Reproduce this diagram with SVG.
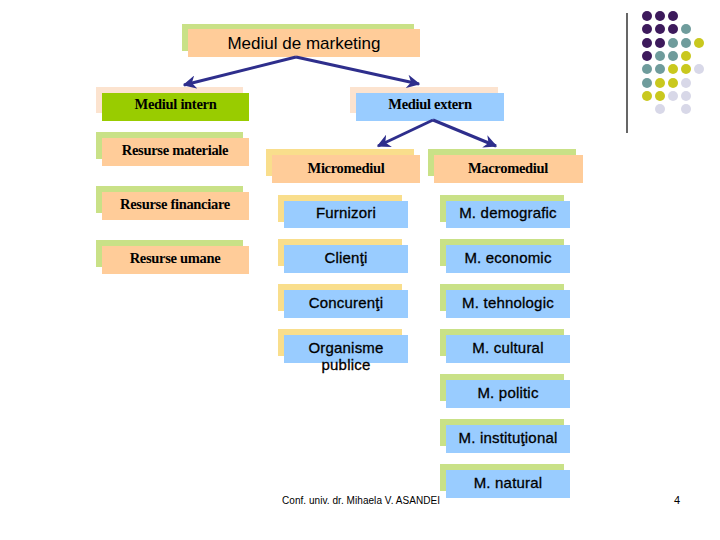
<svg xmlns="http://www.w3.org/2000/svg" width="720" height="540" viewBox="0 0 720 540">
<defs>
<marker id="ah" viewBox="0 0 10 10" refX="9" refY="5" markerWidth="4.5" markerHeight="4.5" orient="auto" markerUnits="strokeWidth">
<path d="M0,0 L10,5 L0,10 L3,5 Z" fill="#2E2E8C"/>
</marker>
</defs>
<style>
.bg-green{fill:#C9E187}
.bg-peach{fill:#FCE3CF}
.bg-yellow{fill:#F9DE8C}
.fr-orange{fill:#FFCC99}
.fr-blue{fill:#99CCFF}
.fr-lime{fill:#99CC00}
.serif{font-family:"Liberation Serif","Times New Roman",serif;font-size:14.5px;font-weight:bold;fill:#000;text-anchor:middle;letter-spacing:-0.3px}
.sans{font-family:"Liberation Sans",Arial,sans-serif;font-size:15px;fill:#000;text-anchor:middle;letter-spacing:0.2px;stroke:#000;stroke-width:0.3px}
.conn{stroke:#2E2E8C;stroke-width:3;fill:none;marker-end:url(#ah)}
</style>
<rect width="720" height="540" fill="#fff"/>

<g id="root">
<rect class="bg-green" x="182" y="24" width="232" height="27"/>
<rect class="fr-orange" x="188" y="29" width="232" height="28"/>
<text x="304" y="49" style="font-family:'Liberation Sans',Arial,sans-serif;font-size:17px;fill:#000;text-anchor:middle">Mediul de marketing</text>
</g>

<g id="mediul-intern">
<rect class="bg-peach" x="96" y="87" width="147" height="26"/>
<rect class="fr-lime" x="102" y="93" width="147" height="28"/>
<text class="serif" x="175.5" y="109">Mediul intern</text>
</g>

<g id="mediul-extern">
<rect class="bg-peach" x="350" y="87" width="148" height="26"/>
<rect class="fr-blue" x="356" y="93" width="148" height="28"/>
<text class="serif" x="430" y="109">Mediul extern</text>
</g>

<g id="resurse-materiale">
<rect class="bg-green" x="96" y="132" width="147" height="27"/>
<rect class="fr-orange" x="102" y="138" width="147" height="28"/>
<text class="serif" x="175" y="155">Resurse materiale</text>
</g>
<g id="resurse-financiare">
<rect class="bg-green" x="96" y="186" width="147" height="27"/>
<rect class="fr-orange" x="102" y="192" width="147" height="28"/>
<text class="serif" x="175" y="209">Resurse financiare</text>
</g>
<g id="resurse-umane">
<rect class="bg-green" x="96" y="240" width="147" height="27"/>
<rect class="fr-orange" x="102" y="246" width="147" height="28"/>
<text class="serif" x="175" y="263">Resurse umane</text>
</g>

<g id="micromediul">
<rect class="bg-yellow" x="266" y="149" width="148" height="27"/>
<rect class="fr-orange" x="272" y="155" width="148" height="28"/>
<text class="serif" x="346" y="173">Micromediul</text>
</g>
<g id="macromediul">
<rect class="bg-green" x="428" y="149" width="148" height="27"/>
<rect class="fr-orange" x="434" y="155" width="149" height="28"/>
<text class="serif" x="508" y="173">Macromediul</text>
</g>

<g id="furnizori">
<rect class="bg-yellow" x="278" y="195" width="124" height="27"/>
<rect class="fr-blue" x="284" y="201" width="124" height="27"/>
<text class="sans" x="346" y="218">Furnizori</text>
</g>
<g id="clienti">
<rect class="bg-yellow" x="278" y="239" width="124" height="27"/>
<rect class="fr-blue" x="284" y="245" width="124" height="28"/>
<text class="sans" x="346" y="263">Clienţi</text>
</g>
<g id="concurenti">
<rect class="bg-yellow" x="278" y="284" width="124" height="27"/>
<rect class="fr-blue" x="284" y="290" width="124" height="28"/>
<text class="sans" x="346" y="308">Concurenţi</text>
</g>
<g id="organisme-publice">
<rect class="bg-yellow" x="278" y="329" width="124" height="27"/>
<rect class="fr-blue" x="284" y="335" width="124" height="28"/>
<text class="sans" x="346" y="353">Organisme</text>
<text class="sans" x="346" y="370">publice</text>
</g>

<g id="m-demografic">
<rect class="bg-green" x="440" y="195" width="124" height="27"/>
<rect class="fr-blue" x="446" y="201" width="124" height="27"/>
<text class="sans" x="508" y="218">M. demografic</text>
</g>
<g id="m-economic">
<rect class="bg-green" x="440" y="239" width="124" height="27"/>
<rect class="fr-blue" x="446" y="245" width="124" height="28"/>
<text class="sans" x="508" y="263">M. economic</text>
</g>
<g id="m-tehnologic">
<rect class="bg-green" x="440" y="284" width="124" height="27"/>
<rect class="fr-blue" x="446" y="290" width="124" height="28"/>
<text class="sans" x="508" y="308">M. tehnologic</text>
</g>
<g id="m-cultural">
<rect class="bg-green" x="440" y="329" width="124" height="27"/>
<rect class="fr-blue" x="446" y="335" width="124" height="28"/>
<text class="sans" x="508" y="353">M. cultural</text>
</g>
<g id="m-politic">
<rect class="bg-green" x="440" y="374" width="124" height="27"/>
<rect class="fr-blue" x="446" y="380" width="124" height="28"/>
<text class="sans" x="508" y="398">M. politic</text>
</g>
<g id="m-institutional">
<rect class="bg-green" x="440" y="419" width="124" height="27"/>
<rect class="fr-blue" x="446" y="425" width="124" height="28"/>
<text class="sans" x="508" y="443">M. instituţional</text>
</g>
<g id="m-natural">
<rect class="bg-green" x="440" y="464" width="124" height="27"/>
<rect class="fr-blue" x="446" y="470" width="124" height="28"/>
<text class="sans" x="508" y="488">M. natural</text>
</g>

<g id="connectors">
<line class="conn" x1="296" y1="57" x2="184" y2="85"/>
<line class="conn" x1="296" y1="57" x2="419" y2="84"/>
<line class="conn" x1="433" y1="120" x2="378" y2="146"/>
<line class="conn" x1="433" y1="120" x2="496" y2="146"/>
</g>

<g id="footer">
<text x="282" y="504" textLength="158" style="font-family:'Liberation Sans',Arial,sans-serif;font-size:10px;fill:#000">Conf. univ. dr. Mihaela V. ASANDEI</text>
<text x="677" y="504" style="font-family:'Liberation Sans',Arial,sans-serif;font-size:11px;fill:#000;text-anchor:middle">4</text>
</g>

<g id="decoration">
<line x1="627" y1="13" x2="627" y2="133" stroke="#000" stroke-width="1.2"/>
<g fill="#3D1A5C">
<circle cx="647" cy="16" r="5"/><circle cx="660" cy="16" r="5"/><circle cx="673" cy="16" r="5"/>
<circle cx="647" cy="29" r="5"/><circle cx="660" cy="29" r="5"/><circle cx="673" cy="29" r="5"/>
<circle cx="647" cy="43" r="5"/><circle cx="660" cy="43" r="5"/>
<circle cx="647" cy="56" r="5"/>
</g>
<g fill="#6F9C9C">
<circle cx="686" cy="29" r="5"/>
<circle cx="673" cy="43" r="5"/><circle cx="686" cy="43" r="5"/>
<circle cx="660" cy="56" r="5"/><circle cx="673" cy="56" r="5"/>
<circle cx="647" cy="69" r="5"/><circle cx="660" cy="69" r="5"/>
<circle cx="647" cy="83" r="5"/>
</g>
<g fill="#C9C81E">
<circle cx="699" cy="43" r="5"/>
<circle cx="686" cy="56" r="5"/>
<circle cx="673" cy="69" r="5"/><circle cx="686" cy="69" r="5"/>
<circle cx="660" cy="83" r="5"/><circle cx="673" cy="83" r="5"/>
<circle cx="647" cy="96" r="5"/><circle cx="660" cy="96" r="5"/>
</g>
<g fill="#D8D8E8">
<circle cx="699" cy="69" r="5"/>
<circle cx="686" cy="83" r="5"/>
<circle cx="673" cy="96" r="5"/><circle cx="686" cy="96" r="5"/>
<circle cx="660" cy="109" r="5"/><circle cx="686" cy="109" r="5"/>
</g>
</g>
</svg>
